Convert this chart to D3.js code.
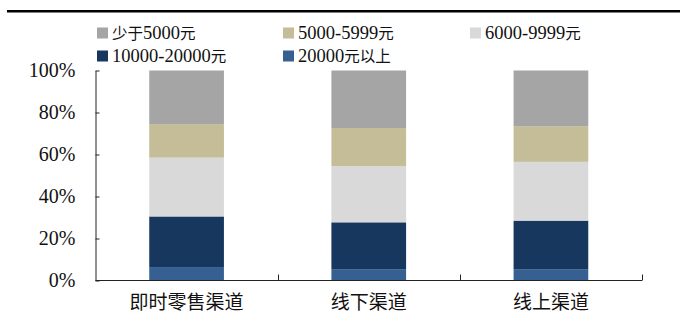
<!DOCTYPE html>
<html>
<head>
<meta charset="utf-8">
<script src="https://cdn.jsdelivr.net/npm/d3@7"></script>
<style>
  html, body { margin: 0; padding: 0; background: #fff; }
  svg { display: block; }
  text { fill: #111; }
</style>
</head>
<body>
<svg id="chart" width="680" height="336"></svg>
<script>
// Channels along the x axis
const categories = ["即时零售渠道", "线下渠道", "线上渠道"];

// Price bands, stacked bottom to top (percent of each channel)
const seriesNames = ["20000元以上", "10000-20000元", "6000-9999元", "5000-5999元", "少于5000元"];
const above20000   = [6.4, 5.4, 5.4];
const from10000    = [24.1, 22.3, 23.1];
const from6000     = [28.0, 26.7, 28.0];
const from5000     = [16.0, 18.2, 17.0];
const below5000    = [25.5, 27.4, 26.5];

// Legend order as drawn (row by row)
const legendOrder = ["少于5000元", "5000-5999元", "6000-9999元", "10000-20000元", "20000元以上"];

const yTicks = [0, 20, 40, 60, 80, 100];

const colors = {
  "少于5000元": "#a5a5a5",
  "5000-5999元": "#c4bd97",
  "6000-9999元": "#d9d9d9",
  "10000-20000元": "#17375e",
  "20000元以上": "#376092"
};

const serif = "'Liberation Serif', serif";
const cjk = "'Noto Sans CJK SC', sans-serif";

const seriesValues = [above20000, from10000, from6000, from5000, below5000];
const rows = categories.map((c, i) => {
  const r = { category: c };
  seriesNames.forEach((s, k) => { r[s] = seriesValues[k][i]; });
  return r;
});

// Split a label into runs of Han characters and everything else
function runs(str) {
  return str.match(/[\u4e00-\u9fff]+|[^\u4e00-\u9fff]+/g) || [];
}
const isHan = t => /[\u4e00-\u9fff]/.test(t);

const svg = d3.select("#chart");

// Top rule
svg.append("rect").attr("x", 7).attr("y", 10).attr("width", 673).attr("height", 2.5).attr("fill", "#000");

const x = d3.scaleBand().domain(categories).range([95.5, 642]).paddingInner(0.59).paddingOuter(0.295);
const y = d3.scaleLinear().domain([0, 100]).range([280.5, 70.5]);

const stacked = d3.stack().keys(seriesNames)(rows);

// Bars
svg.append("g").selectAll("g")
  .data(stacked)
  .join("g")
  .attr("fill", d => colors[d.key])
  .selectAll("rect")
  .data(d => d)
  .join("rect")
  .attr("x", d => x(d.data.category))
  .attr("width", x.bandwidth())
  .attr("y", d => y(d[1]))
  .attr("height", d => y(d[0]) - y(d[1]));

// Y axis with inward ticks
const yAxis = d3.axisLeft(y).tickValues(yTicks).tickFormat(d => d + "%").tickSizeInner(-4).tickSizeOuter(0).tickPadding(20);
const gy = svg.append("g").attr("transform", "translate(95.5,0)").call(yAxis);
gy.select(".domain").attr("stroke", "#222");
gy.selectAll(".tick line").attr("stroke", "#222");
gy.selectAll(".tick text").attr("font-size", 20).attr("fill", "#111")
  .attr("font-family", serif);

// X axis: baseline with upward ticks at band boundaries
const gx = svg.append("g").attr("transform", "translate(0,280.5)");
gx.append("line").attr("x1", 95.5).attr("x2", 642).attr("stroke", "#222");
const bounds = categories.map(c => x(c) + x.bandwidth() / 2 + x.step() / 2);
gx.selectAll("line.tk").data(bounds).join("line").attr("class", "tk")
  .attr("x1", d => Math.round(d) + 0.5).attr("x2", d => Math.round(d) + 0.5)
  .attr("y1", 0).attr("y2", -6).attr("stroke", "#222");
gx.selectAll("text").data(categories).join("text")
  .attr("font-family", cjk)
  .attr("x", d => x(d) + x.bandwidth() / 2)
  .attr("y", 28)
  .attr("text-anchor", "middle")
  .attr("font-size", 19)
  .text(d => d);

// Legend
const legendPos = [
  [97, 33], [283, 33], [470, 33],
  [97, 56], [283, 56]
];
const lg = svg.append("g").selectAll("g").data(legendOrder).join("g")
  .attr("transform", (d, i) => `translate(${legendPos[i][0]},${legendPos[i][1]})`);
lg.append("rect").attr("x", 0).attr("y", -5.5).attr("width", 11).attr("height", 11).attr("fill", d => colors[d]);
lg.append("text").attr("x", 15).attr("y", 0).attr("dy", "0.35em").attr("font-size", 18)
  .selectAll("tspan").data(d => runs(d)).join("tspan")
  .attr("font-family", t => isHan(t) ? cjk : serif)
  .attr("font-size", t => isHan(t) ? 15.5 : 18.5)
  .text(t => t);
</script>
</body>
</html>
